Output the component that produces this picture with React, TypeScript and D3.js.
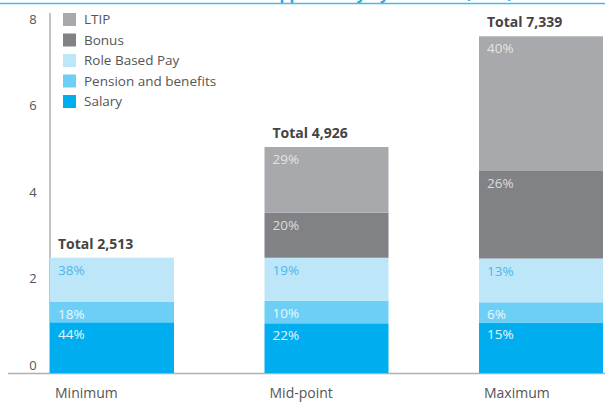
import React from "react";
import * as d3 from "d3";

const categories = ["Minimum", "Mid-point", "Maximum"];
const totals = [2513, 4926, 7339];
const totalLabels = ["Total 2,513", "Total 4,926", "Total 7,339"];
const seriesNames = ["Salary", "Pension and benefits", "Role Based Pay", "Bonus", "LTIP"];
const salaryPct = [44, 22, 15];
const pensionPct = [18, 10, 6];
const roleBasedPct = [38, 19, 13];
const bonusPct = [0, 20, 26];
const ltipPct = [0, 29, 40];
const yTicks = [0, 2, 4, 6, 8];

const colors = ["#00aeef", "#6dcff6", "#bde6f9", "#818285", "#a7a9ac"];
const labelColors = ["#e8f6fd", "#eaf8fe", "#4cb8ea", "#dcdcdc", "#e4e4e4"];

export default function App() {
  const W = 605, H = 406;
  const pcts = [salaryPct, pensionPct, roleBasedPct, bonusPct, ltipPct];
  const y = d3.scaleLinear().domain([0, 8]).range([373, 6]);
  const yLab = d3.scaleLinear().domain([0, 8]).range([365, 19]);
  const x = d3.scalePoint().domain(categories).range([50, 479]);
  const bw = 124;

  const stacks = categories.map((c, i) => {
    let acc = 0;
    return pcts.map((p, k) => {
      const v = (p[i] / 100) * totals[i] / 1000;
      const seg = { k, y0: acc, y1: acc + v, pct: p[i] };
      acc += v;
      return seg;
    });
  });

  const font = "'Open Sans', 'Noto Sans', sans-serif";
  const legendOrder = [4, 3, 2, 1, 0];

  return (
    <svg width={W} height={H} style={{ position: "absolute", left: 0, top: 0, background: "#fff" }} fontFamily={font}>
      <text x={150} y={-1} fontSize={16} fill="#29abe2" fontWeight="bold">Remuneration opportunity by scenario (£000)</text>
      <line x1={0} x2={W} y1={3.5} y2={3.5} stroke="#47b9ea" strokeWidth={1.5} />

      {yTicks.map(t => (
        <text key={t} x={33} y={yLab(t) + 4.5} fontSize={13} fill="#555" textAnchor="middle">{t}</text>
      ))}
      <line x1={50} x2={50} y1={13} y2={373} stroke="#b0b0b0" strokeWidth={1.5} />
      <line x1={8} x2={W} y1={373.5} y2={373.5} stroke="#b0b0b0" strokeWidth={1.5} />

      {categories.map((c, i) => (
        <g key={c}>
          {stacks[i].filter(s => s.pct > 0).map(s => (
            <g key={s.k}>
              <rect x={x(c)} y={y(s.y1)} width={bw} height={y(s.y0) - y(s.y1)} fill={colors[s.k]} />
              <text x={(x(c) as number) + 8} y={y(s.y1) + 17} fontSize={13.5} fill={labelColors[s.k]}>{s.pct}%</text>
            </g>
          ))}
          <text x={(x(c) as number) + 8} y={y(totals[i] / 1000) - 9} fontSize={14} fontWeight="bold" fill="#444">{totalLabels[i]}</text>
          <text x={(x(c) as number) + 5} y={398} fontSize={14} fill="#555">{c}</text>
        </g>
      ))}

      {legendOrder.map((k, j) => (
        <g key={k}>
          <rect x={63} y={13 + j * 20.5} width={13} height={13} fill={colors[k]} />
          <text x={84} y={24 + j * 20.5} fontSize={13.5} fill="#555">{seriesNames[k]}</text>
        </g>
      ))}
    </svg>
  );
}
